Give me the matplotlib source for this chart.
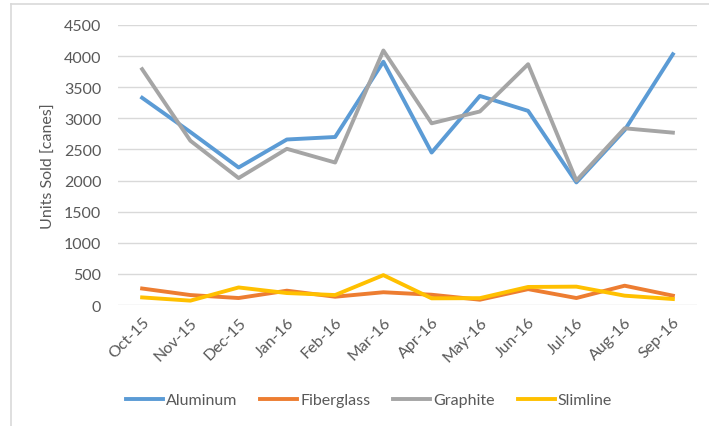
import matplotlib.pyplot as plt
from matplotlib.lines import Line2D

months = ['Oct-15', 'Nov-15', 'Dec-15', 'Jan-16', 'Feb-16', 'Mar-16',
          'Apr-16', 'May-16', 'Jun-16', 'Jul-16', 'Aug-16', 'Sep-16']
aluminum = [3330, 2780, 2210, 2660, 2700, 3910, 2450, 3360, 3120, 1970, 2810, 4030]
fiberglass = [265, 160, 112, 230, 133, 205, 165, 85, 255, 112, 310, 150]
graphite = [3790, 2640, 2040, 2510, 2290, 4090, 2920, 3110, 3870, 2000, 2840, 2770]
slimline = [122, 70, 282, 192, 160, 480, 107, 110, 290, 295, 150, 96]

plt.rcParams['font.family'] = ['Lato', 'DejaVu Sans']

fig = plt.figure(figsize=(7.09, 4.27), dpi=100)
ax = fig.add_axes([118 / 709, 1 - 306 / 427, 579 / 709, 280 / 427])

x = range(len(months))
lw = 2.8
ax.plot(x, aluminum, color='#5b9bd5', lw=lw, label='Aluminum', solid_joinstyle='round')
ax.plot(x, fiberglass, color='#ed7d31', lw=lw, label='Fiberglass', solid_joinstyle='round')
ax.plot(x, graphite, color='#a5a5a5', lw=lw, label='Graphite', solid_joinstyle='round')
ax.plot(x, slimline, color='#ffc000', lw=lw, label='Slimline', solid_joinstyle='round')

ax.set_xlim(-0.5, len(months) - 0.5)
ax.set_ylim(0, 4500)
ax.set_yticks(range(0, 4501, 500))
ax.set_xticks(list(x))
ax.set_xticklabels(months, rotation=45, ha='right', rotation_mode='anchor')
ax.grid(axis='y', color='#d9d9d9', lw=1)
ax.set_axisbelow(True)
for s in ax.spines.values():
    s.set_visible(False)
ax.tick_params(axis='both', length=0, labelsize=11.5, labelcolor='#595959')
ax.tick_params(axis='y', pad=12)
ax.tick_params(axis='x', pad=7)
ax.set_ylabel('Units Sold [canes]', fontsize=11.5, color='#595959', labelpad=6)

# legend below the plot
fig.legend(loc='center', bbox_to_anchor=(369 / 709, 1 - 401 / 427), ncol=4,
           frameon=False, fontsize=11.5, handlelength=2.3, handletextpad=0.2,
           columnspacing=1.45, labelcolor='#595959')

# chart area border (left and top edges)
fig.add_artist(Line2D([11 / 709, 11 / 709], [0, 1 - 5 / 427], color='#d9d9d9', lw=1.2,
                      transform=fig.transFigure))
fig.add_artist(Line2D([11 / 709, 1], [1 - 5 / 427, 1 - 5 / 427], color='#d9d9d9', lw=1.2,
                      transform=fig.transFigure))

fig.savefig('out.png', dpi=100)
